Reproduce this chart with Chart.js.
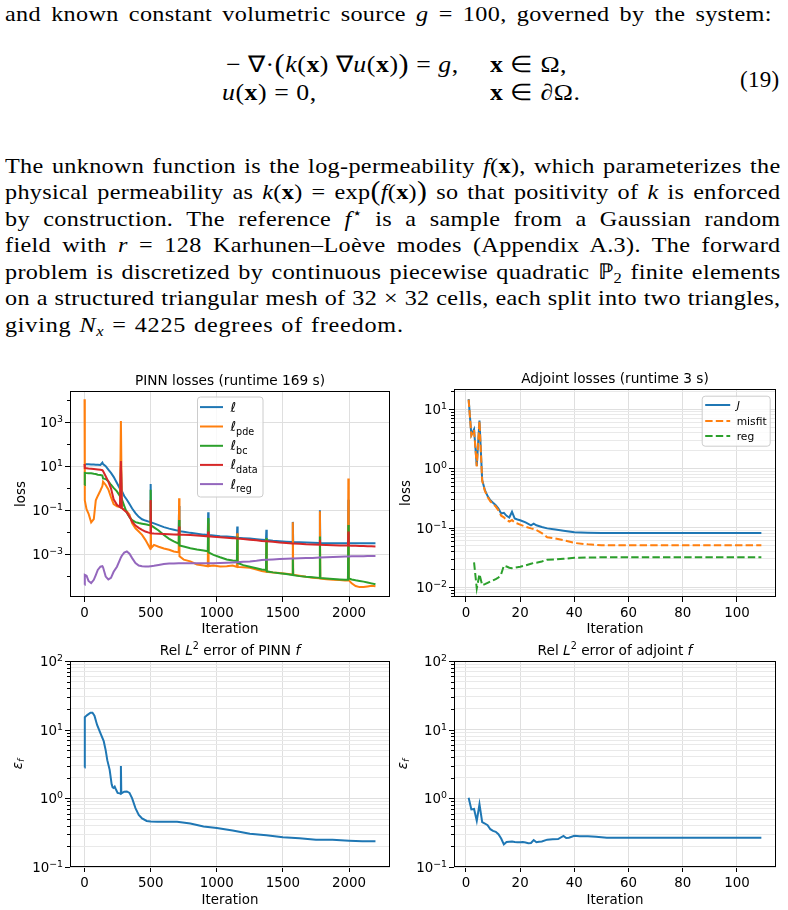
<!DOCTYPE html>
<html>
<head>
<meta charset="utf-8">
<title>PINN vs adjoint losses</title>
<script src="https://cdn.jsdelivr.net/npm/chart.js@4.4.0/dist/chart.umd.min.js"></script>
<style>
  body { margin: 0; background: #fff; width: 788px; height: 910px; position: relative; overflow: hidden; }
  .ln { position: absolute; left: 5px; width: 705px; font: 22px 'Liberation Serif', serif; line-height: 26px;
        text-align: justify; text-align-last: justify; letter-spacing: 0.3px; color: #000;
        transform: scaleX(1.1); transform-origin: 0 0; }
  .eq { position: absolute; font: 23px 'Liberation Serif', serif; line-height: 26px; white-space: nowrap; color: #000;
        letter-spacing: 0.5px; transform: scaleX(1.12); transform-origin: 0 0; }
  .bp { font-size: 27px; vertical-align: -1px; line-height: 0; }
  .sp { font-size: 15px; vertical-align: 8px; line-height: 0; }
  .sb { font-size: 15px; vertical-align: -4px; line-height: 0; }
  canvas { position: absolute; }
</style>
</head>
<body>
<div class="ln" style="top:1px; width:697px">and known constant volumetric source <i>g</i> = 100, governed by the system:</div>

<div class="eq" style="left:226px; top:52px">− ∇·<span class="bp">(</span><i>k</i>(<b>x</b>) ∇<i>u</i>(<b>x</b>)<span class="bp">)</span> = <i>g</i>,</div>
<div class="eq" style="left:490px; top:52px"><b>x</b> ∈ Ω,</div>
<div class="eq" style="left:222px; top:80px"><i>u</i>(<b>x</b>) = 0,</div>
<div class="eq" style="left:490px; top:80px"><b>x</b> ∈ ∂Ω.</div>
<div class="eq" style="left:740px; top:67px; transform:none; letter-spacing:0.3px">(19)</div>

<div class="ln" style="top:153px">The unknown function is the log-permeability <i>f</i>(<b>x</b>), which parameterizes the</div>
<div class="ln" style="top:179px">physical permeability as <i>k</i>(<b>x</b>) = exp<span class="bp">(</span><i>f</i>(<b>x</b>)<span class="bp">)</span> so that positivity of <i>k</i> is enforced</div>
<div class="ln" style="top:206px">by construction.  The reference <i>f</i><span class="sp">⋆</span> is a sample from a Gaussian random</div>
<div class="ln" style="top:232px">field with <i>r</i> = 128 Karhunen–Loève modes (Appendix A.3).  The forward</div>
<div class="ln" style="top:259px">problem is discretized by continuous piecewise quadratic ℙ<span class="sb">2</span> finite elements</div>
<div class="ln" style="top:285px">on a structured triangular mesh of 32 × 32 cells, each split into two triangles,</div>
<div class="ln" style="top:312px; text-align:left; text-align-last:left; letter-spacing:0.7px; word-spacing:1px">giving <i>N</i><span class="sb"><i>x</i></span> = 4225 degrees of freedom.</div>

<canvas id="pinnLoss" width="394" height="275" style="left:0; top:365px"></canvas>
<canvas id="adjLoss" width="394" height="275" style="left:394px; top:365px"></canvas>
<canvas id="pinnErrChart" width="394" height="270" style="left:0; top:640px"></canvas>
<canvas id="adjErrChart" width="394" height="270" style="left:394px; top:640px"></canvas>

<script>
// ---- data ----
// PINN losses, shared iteration grid (spikes are the triples around 275, 500, 715, ...)
const pinnIter = [0, 2, 15, 30, 50, 70, 85, 100, 120, 135, 140, 160, 180, 200, 220, 245, 268, 275, 282, 300,
  320, 340, 360, 385, 410, 435, 460, 485, 497, 500, 503, 525, 560, 600, 640, 675, 712, 715, 718, 750,
  800, 850, 900, 932, 935, 938, 975, 1025, 1075, 1120, 1152, 1155, 1158, 1200, 1250, 1300, 1340, 1372, 1375, 1378,
  1425, 1475, 1525, 1572, 1575, 1578, 1625, 1675, 1725, 1777, 1780, 1783, 1830, 1880, 1930, 1970, 1992, 1995, 1998, 2020,
  2050, 2080, 2110, 2140, 2170, 2200];
const pinnTotal = [12.9, 12.6, 12.3, 12.3, 12.0, 12.0, 11.7, 11.7, 11.5, 14.8, 12.6, 10.2, 7.08, 5.01, 3.31, 1.74, 0.955, 10, 0.759, 0.447,
  0.302, 0.191, 0.120, 0.0741, 0.0501, 0.0389, 0.0339, 0.0302, 0.0288, 1.58, 0.0282, 0.0251, 0.0209, 0.0170, 0.0145, 0.0129, 0.0115, 0.158, 0.0112, 0.0105,
  0.00933, 0.00851, 0.00776, 0.00741, 0.0813, 0.00741, 0.00708, 0.00661, 0.00631, 0.00603, 0.00575, 0.0182, 0.00562, 0.00537, 0.00513, 0.00479, 0.00457, 0.00437, 0.0129, 0.00437,
  0.00407, 0.00389, 0.00372, 0.00355, 0.0295, 0.00355, 0.00347, 0.00339, 0.00331, 0.00324, 0.100, 0.00324, 0.00316, 0.00316, 0.00316, 0.00316, 0.00316, 0.3, 0.00316, 0.00316,
  0.00316, 0.00316, 0.00316, 0.00316, 0.00316, 0.00316];
const pinnPde = [1.12e4, 0.282, 0.112, 0.0708, 0.0282, 0.0398, 0.282, 0.447, 0.794, 1.26, 2.00, 1.41, 0.891, 0.398, 0.191, 0.151, 0.141, 1150, 0.126, 0.105,
  0.0891, 0.0631, 0.0251, 0.0151, 0.0107, 0.00759, 0.00447, 0.00240, 0.00178, 0.251, 0.00191, 0.00263, 0.00219, 0.00182, 0.00158, 0.00132, 0.00120, 0.355, 0.000794, 0.000562,
  0.000468, 0.000339, 0.000302, 0.000282, 0.0251, 0.000288, 0.000302, 0.000275, 0.000282, 0.000302, 0.000263, 0.00891, 0.000263, 0.000251, 0.000240, 0.000200, 0.000170, 0.000158, 0.00501, 0.000155,
  0.000145, 0.000138, 0.000129, 0.000120, 0.0282, 0.000117, 0.000105, 9.33e-5, 8.51e-5, 7.94e-5, 0.0891, 7.76e-5, 7.24e-5, 6.92e-5, 6.61e-5, 6.31e-5, 6.31e-5, 2.82, 6.61e-5, 4.68e-5,
  3.55e-5, 3.16e-5, 3.16e-5, 3.39e-5, 3.63e-5, 3.47e-5];
const pinnBc = [1.41, 5.01, 4.90, 4.79, 4.79, 4.57, 4.47, 4.17, 3.98, 3.80, 2.82, 2.63, 2.09, 1.45, 1.05, 0.724, 0.437, 0.380, 0.316, 0.158,
  0.0759, 0.0479, 0.0355, 0.0288, 0.0263, 0.0245, 0.0229, 0.0214, 0.0209, 0.851, 0.0204, 0.0166, 0.0120, 0.00741, 0.00501, 0.00380, 0.00302, 0.0363, 0.00251, 0.00224,
  0.00186, 0.00162, 0.00148, 0.00135, 0.0437, 0.00120, 0.000933, 0.000724, 0.000575, 0.000513, 0.000490, 0.00631, 0.000398, 0.000316, 0.000269, 0.000229, 0.000200, 0.000191, 0.00537, 0.000166,
  0.000148, 0.000135, 0.000126, 0.000112, 0.000661, 0.000110, 0.000100, 9.33e-5, 8.91e-5, 8.32e-5, 0.00631, 8.13e-5, 7.76e-5, 7.41e-5, 7.08e-5, 6.76e-5, 6.76e-5, 0.0214, 7.94e-5, 7.08e-5,
  6.46e-5, 6.03e-5, 5.62e-5, 5.13e-5, 4.68e-5, 4.27e-5];
const pinnData = [12.6, 8.32, 8.13, 7.94, 7.76, 7.59, 7.41, 7.24, 6.92, 6.61, 6.03, 3.55, 2.00, 1.00, 0.316, 0.178, 0.141, 17.4, 0.126, 0.100,
  0.0794, 0.0501, 0.0302, 0.0200, 0.0158, 0.0129, 0.0107, 0.00955, 0.00912, 0.295, 0.00891, 0.00871, 0.00851, 0.00832, 0.00813, 0.00794, 0.00776, 0.0182, 0.00776, 0.00759,
  0.00741, 0.00708, 0.00676, 0.00646, 0.0107, 0.00646, 0.00617, 0.00589, 0.00562, 0.00537, 0.00513, 0.00513, 0.00513, 0.00490, 0.00457, 0.00427, 0.00398, 0.00389, 0.00389, 0.00389,
  0.00363, 0.00339, 0.00324, 0.00309, 0.00309, 0.00309, 0.00295, 0.00282, 0.00275, 0.00269, 0.00447, 0.00269, 0.00263, 0.00257, 0.00251, 0.00245, 0.00245, 0.0107, 0.00245, 0.00240,
  0.00240, 0.00234, 0.00234, 0.00229, 0.00229, 0.00224];
const pinnReg = [4.07e-5, 1.15e-4, 1.05e-4, 6.03e-5, 4.79e-5, 6.76e-5, 1.12e-4, 1.91e-4, 2.69e-4, 2.82e-4, 2.51e-4, 9.55e-5, 7.08e-5, 8.32e-5, 1.58e-4, 2.69e-4, 5.62e-4, 7.08e-4, 8.51e-4, 1.17e-3,
  1.32e-3, 1.05e-3, 6.61e-4, 3.98e-4, 3.02e-4, 2.82e-4, 2.75e-4, 2.75e-4, 2.82e-4, 2.82e-4, 2.82e-4, 2.95e-4, 3.24e-4, 3.55e-4, 3.72e-4, 3.80e-4, 3.89e-4, 3.89e-4, 3.89e-4, 3.89e-4,
  3.89e-4, 3.89e-4, 3.89e-4, 3.89e-4, 3.89e-4, 3.89e-4, 3.89e-4, 3.98e-4, 4.07e-4, 4.17e-4, 4.27e-4, 4.27e-4, 4.27e-4, 4.47e-4, 4.68e-4, 5.01e-4, 5.37e-4, 5.50e-4, 5.50e-4, 5.50e-4,
  5.75e-4, 6.03e-4, 6.17e-4, 6.31e-4, 6.31e-4, 6.31e-4, 6.46e-4, 6.61e-4, 6.76e-4, 7.08e-4, 7.08e-4, 7.08e-4, 7.24e-4, 7.41e-4, 7.59e-4, 7.76e-4, 7.76e-4, 7.76e-4, 7.76e-4, 7.94e-4,
  7.94e-4, 8.13e-4, 8.13e-4, 8.32e-4, 8.32e-4, 8.32e-4];

// adjoint losses
const adjIter = [1, 2, 3, 4, 5, 6, 7, 8, 9, 10, 11, 12, 13, 14, 15, 16, 17, 18, 19, 20,
  22, 24, 25, 26, 28, 30, 33, 36, 40, 45, 50, 60, 70, 80, 90, 100, 109];
const adjJ = [14.8, 3.68, 4.59, 1.10, 6.43, 0.637, 0.431, 0.342, 0.292, 0.264, 0.240, 0.211, 0.174, 0.179, 0.159, 0.149, 0.186, 0.143, 0.138, 0.134,
  0.123, 0.110, 0.117, 0.110, 0.103, 0.0977, 0.0933, 0.0891, 0.0841, 0.0828, 0.0818, 0.0818, 0.0818, 0.0818, 0.0818, 0.0818, 0.0818];
const adjMisfit = [14.5, 3.6, 4.5, 1.08, 6.3, 0.62, 0.42, 0.33, 0.28, 0.25, 0.228, 0.197, 0.160, 0.150, 0.135, 0.127, 0.135, 0.122, 0.118, 0.113,
  0.104, 0.0977, 0.0955, 0.0912, 0.0813, 0.0692, 0.0660, 0.0617, 0.0555, 0.0525, 0.0507, 0.0507, 0.0507, 0.0507, 0.0507, 0.0507, 0.0507];
const adjReg = [null, null, 0.026, 0.0095, 0.0165, 0.0108, 0.0112, 0.0118, 0.0124, 0.0130, 0.0136, 0.0145, 0.0165, 0.0230, 0.0222, 0.0212, 0.0208, 0.0212, 0.0216, 0.0220,
  0.0232, 0.0248, 0.0255, 0.0258, 0.0270, 0.0290, 0.0292, 0.0300, 0.0312, 0.0316, 0.0317, 0.0317, 0.0317, 0.0317, 0.0317, 0.0317, 0.0317];

// relative L2 error of f
const pinnErrIter = [0, 2, 20, 45, 60, 75, 95, 120, 145, 160, 172, 190, 205, 212, 220, 228, 235, 250, 265, 272,
  275, 278, 300, 320, 340, 360, 385, 410, 435, 470, 500, 550, 600, 700, 800, 850, 900, 1000, 1120, 1250,
  1375, 1500, 1625, 1750, 1875, 2000, 2100, 2200];
const pinnErr = [2.82, 15.2, 16.3, 17.7, 17.7, 16.0, 11.7, 8.9, 6.8, 5.0, 3.6, 2.6, 1.6, 1.45, 1.42, 1.48, 1.38, 1.2, 1.18, 1.17,
  2.95, 1.18, 1.25, 1.26, 1.2, 1.0, 0.72, 0.575, 0.51, 0.468, 0.46, 0.455, 0.457, 0.455, 0.43, 0.41, 0.39, 0.37, 0.34, 0.305,
  0.29, 0.272, 0.263, 0.25, 0.249, 0.242, 0.237, 0.237];
const adjErrIter = [1, 2, 3, 4, 5, 6, 7, 8, 9, 10, 11, 12, 13, 14, 15, 16, 17, 18, 19, 20, 21, 22, 23, 24, 25, 26, 27, 28,
  30, 32, 34, 36, 37, 38, 40, 42, 45, 48, 52, 55, 60, 70, 80, 90, 100, 109];
const adjErr = [1.02, 0.69, 0.70, 0.47, 0.82, 0.45, 0.43, 0.405, 0.355, 0.335, 0.325, 0.30, 0.26, 0.214, 0.231, 0.233, 0.235, 0.231, 0.229, 0.229,
  0.231, 0.227, 0.222, 0.224, 0.247, 0.229, 0.233, 0.235,
  0.25, 0.254, 0.255, 0.283, 0.265, 0.267, 0.285, 0.28, 0.28, 0.275, 0.267, 0.267, 0.267, 0.267, 0.267, 0.267, 0.267, 0.267];

// ticks
const pinnXTicks = [0, 500, 1000, 1500, 2000];
const adjXTicks = [0, 20, 40, 60, 80, 100];
const pinnLossExp = [-3, -1, 1, 3];
const adjLossExp = [-2, -1, 0, 1];
const errExp = [-1, 0, 1, 2];

// ---- drawing helpers ----
const FAM = "'DejaVu Sans', sans-serif";
function fnt(size, style) { return (style ? style + ' ' : '') + size + 'px ' + FAM; }
const C = { blue: '#1f77b4', orange: '#ff7f0e', green: '#2ca02c', red: '#d62728', purple: '#9467bd' };
const DASH = [7.4, 3.2];

function pts(xs, ys) { return xs.map((x, i) => ({ x: x, y: ys[i] })); }

function expOf(v) {
  const e = Math.round(Math.log10(v));
  return Math.abs(v / Math.pow(10, e) - 1) < 1e-6 ? e : null;
}

function logTicks(min, max, minor) {
  const out = [];
  const subs = minor ? [1, 2, 3, 4, 5, 6, 7, 8, 9] : [1];
  for (let e = Math.floor(Math.log10(min)); e <= Math.ceil(Math.log10(max)); e++) {
    subs.forEach(m => {
      const v = m * Math.pow(10, e);
      if (v >= min * 0.999 && v <= max * 1.001) out.push({ value: v });
    });
  }
  return out;
}

function drawRuns(ctx, runs, x, y, align) {
  let w = 0;
  runs.forEach(r => { ctx.font = r.f; w += ctx.measureText(r.t).width; });
  let cx = align === 'center' ? x - w / 2 : (align === 'right' ? x - w : x);
  ctx.textAlign = 'left';
  runs.forEach(r => {
    ctx.font = r.f;
    ctx.fillText(r.t, cx, y + (r.dy || 0));
    cx += ctx.measureText(r.t).width;
  });
}

const decorCfg = {};

const decor = {
  id: 'decor',
  afterDatasetsDraw(chart) {
    const cfg = decorCfg[chart.canvas.id];
    const ctx = chart.ctx, a = chart.chartArea, ys = chart.scales.y;
    ctx.save();
    ctx.fillStyle = '#000';
    ctx.strokeStyle = '#000';
    ctx.textBaseline = 'alphabetic';
    ctx.lineWidth = 1;

    // y tick marks + 10^n labels
    ys.ticks.forEach(t => {
      const y = Math.round(ys.getPixelForValue(t.value)) + 0.5;
      const e = expOf(t.value);
      const labeled = e !== null && cfg.yLabels.includes(e);
      const len = labeled ? 5 : 3;
      ctx.beginPath();
      ctx.moveTo(a.left - len, y);
      ctx.lineTo(a.left, y);
      ctx.stroke();
      if (labeled) {
        drawRuns(ctx, [
          { t: '10', f: fnt(13.4) },
          { t: e < 0 ? '\u2212' + (-e) : String(e), f: fnt(9.4), dy: -5.5 }
        ], a.left - 7, y + 4.5, 'right');
      }
    });

    // frame
    ctx.strokeRect(a.left + 0.5, a.top + 0.5, a.right - a.left - 1, a.bottom - a.top - 1);

    // title
    drawRuns(ctx, cfg.title, (a.left + a.right) / 2, a.top - 6, 'center');

    // x label
    drawRuns(ctx, [{ t: 'Iteration', f: fnt(13.4) }], (a.left + a.right) / 2, a.bottom + cfg.xlabelDy, 'center');

    // y label (rotated)
    ctx.save();
    ctx.translate(cfg.ylabelX, (a.top + a.bottom) / 2);
    ctx.rotate(-Math.PI / 2);
    drawRuns(ctx, cfg.ylabel, 0, 0, 'center');
    ctx.restore();

    // legend
    const L = cfg.legend;
    if (L) {
      const bx = a.left + L.dx, by = a.top + L.dy;
      ctx.fillStyle = 'rgba(255,255,255,0.8)';
      ctx.strokeStyle = '#cccccc';
      ctx.beginPath();
      if (ctx.roundRect) ctx.roundRect(bx + 0.5, by + 0.5, L.w, L.h, 3);
      else ctx.rect(bx + 0.5, by + 0.5, L.w, L.h);
      ctx.fill();
      ctx.stroke();
      L.items.forEach((it, i) => {
        const ry = by + L.rows[i];
        ctx.strokeStyle = it.color;
        ctx.lineWidth = 2;
        ctx.setLineDash(it.dash || []);
        ctx.beginPath();
        ctx.moveTo(bx + L.lx0, ry);
        ctx.lineTo(bx + L.lx1, ry);
        ctx.stroke();
        ctx.setLineDash([]);
        ctx.fillStyle = '#000';
        drawRuns(ctx, it.runs, bx + L.tx, ry + L.base, 'left');
      });
    }
    ctx.restore();
  }
};

function buildChart(id, o) {
  decorCfg[id] = o.decor;
  return new Chart(document.getElementById(id), {
    type: 'line',
    data: { datasets: o.datasets },
    options: {
      responsive: false,
      animation: false,
      layout: { padding: o.pad },
      plugins: { legend: { display: false }, tooltip: { enabled: false } },
      elements: { point: { radius: 0 }, line: { borderWidth: 2, tension: 0 } },
      scales: {
        x: {
          type: 'linear', min: o.xMin, max: o.xMax, bounds: 'data',
          afterBuildTicks: s => { s.ticks = o.xTicks.map(v => ({ value: v })); },
          afterFit: s => { s.height = o.xH; },
          ticks: { color: '#000', font: { family: FAM, size: 13.4 }, padding: 3, maxRotation: 0, autoSkip: false,
                   callback: v => String(v) },
          grid: { color: '#dfdfdf', tickColor: '#000', tickLength: 5, lineWidth: 1 },
          border: { display: false }
        },
        y: {
          type: 'logarithmic', min: o.yMin, max: o.yMax, bounds: 'data',
          afterBuildTicks: s => { s.ticks = logTicks(o.yMin, o.yMax, o.minorGrid); },
          afterFit: s => { s.width = o.yW; },
          ticks: { display: false },
          grid: {
            drawTicks: false, lineWidth: 1,
            color: c => {
              const e = c.tick ? expOf(c.tick.value) : null;
              if (e !== null && o.decor.yLabels.includes(e)) return '#dfdfdf';
              return o.minorGrid ? '#e9e9e9' : 'rgba(0,0,0,0)';
            }
          },
          border: { display: false }
        }
      }
    },
    plugins: [decor]
  });
}

const lineDs = (label, xs, ys, color, order, dash) => ({
  label: label, data: pts(xs, ys), borderColor: color, backgroundColor: color,
  borderWidth: 2, order: order, borderDash: dash || [], spanGaps: false
});

const ell = sub => sub
  ? [{ t: '\u2113', f: fnt(13.6, 'italic') }, { t: sub, f: fnt(9.6), dy: 3.5 }]
  : [{ t: '\u2113', f: fnt(13.6, 'italic') }];

buildChart('pinnLoss', {
  pad: { left: 0, right: 4, top: 26, bottom: 0 }, yW: 70, xH: 43,
  xMin: -110, xMax: 2310, xTicks: pinnXTicks,
  yMin: 1.12e-5, yMax: 2.69e4, minorGrid: false,
  datasets: [
    lineDs('l', pinnIter, pinnTotal, C.blue, 4),
    lineDs('l_pde', pinnIter, pinnPde, C.orange, 3),
    lineDs('l_bc', pinnIter, pinnBc, C.green, 2),
    lineDs('l_data', pinnIter, pinnData, C.red, 1),
    lineDs('l_reg', pinnIter, pinnReg, C.purple, 0)
  ],
  decor: {
    yLabels: pinnLossExp, xlabelDy: 36, ylabelX: 25,
    title: [{ t: 'PINN losses (runtime 169 s)', f: fnt(13.7) }],
    ylabel: [{ t: 'loss', f: fnt(13.4) }],
    legend: {
      dx: 127, dy: 5.5, w: 65.5, h: 100, lx0: 3, lx1: 26, tx: 33.5, base: 4.5,
      rows: [10.6, 30, 49.3, 68.4, 87.6],
      items: [
        { color: C.blue, runs: ell('') },
        { color: C.orange, runs: ell('pde') },
        { color: C.green, runs: ell('bc') },
        { color: C.red, runs: ell('data') },
        { color: C.purple, runs: ell('reg') }
      ]
    }
  }
});

buildChart('adjLoss', {
  pad: { left: 0, right: 12, top: 24, bottom: 0 }, yW: 60, xH: 43,
  xMin: -4.4, xMax: 114.4, xTicks: adjXTicks,
  yMin: 0.0068, yMax: 21.9, minorGrid: true,
  datasets: [
    lineDs('J', adjIter, adjJ, C.blue, 2),
    lineDs('misfit', adjIter, adjMisfit, C.orange, 1, DASH),
    lineDs('reg', adjIter, adjReg, C.green, 0, DASH)
  ],
  decor: {
    yLabels: adjLossExp, xlabelDy: 36, ylabelX: 16,
    title: [{ t: 'Adjoint losses (runtime 3 s)', f: fnt(13.7) }],
    ylabel: [{ t: 'loss', f: fnt(13.4) }],
    legend: {
      dx: 247.7, dy: 6.7, w: 68, h: 50, lx0: 3.5, lx1: 28.5, tx: 35, base: 4,
      rows: [9.3, 25.3, 40.3],
      items: [
        { color: C.blue, runs: [{ t: 'J', f: fnt(10.7, 'italic') }] },
        { color: C.orange, dash: DASH, runs: [{ t: 'misfit', f: fnt(10.7) }] },
        { color: C.green, dash: DASH, runs: [{ t: 'reg', f: fnt(10.7) }] }
      ]
    }
  }
});

const errLabel = [{ t: '\u03b5', f: fnt(13.4, 'italic') }, { t: 'f', f: fnt(9.4, 'italic'), dy: 2.5 }];

buildChart('pinnErrChart', {
  pad: { left: 0, right: 4, top: 21, bottom: 0 }, yW: 70, xH: 43,
  xMin: -110, xMax: 2310, xTicks: pinnXTicks,
  yMin: 0.1, yMax: 100, minorGrid: true,
  datasets: [lineDs('err', pinnErrIter, pinnErr, C.blue, 0)],
  decor: {
    yLabels: errExp, xlabelDy: 37, ylabelX: 21.5,
    title: [
      { t: 'Rel ', f: fnt(13.7) }, { t: 'L', f: fnt(13.7, 'italic') }, { t: '2', f: fnt(9.6), dy: -6 },
      { t: ' error of PINN ', f: fnt(13.7) }, { t: 'f', f: fnt(13.7, 'italic') }
    ],
    ylabel: errLabel
  }
});

buildChart('adjErrChart', {
  pad: { left: 0, right: 12, top: 21, bottom: 0 }, yW: 60, xH: 43,
  xMin: -4.4, xMax: 114.4, xTicks: adjXTicks,
  yMin: 0.1, yMax: 100, minorGrid: true,
  datasets: [lineDs('err', adjErrIter, adjErr, C.blue, 0)],
  decor: {
    yLabels: errExp, xlabelDy: 37, ylabelX: 12.5,
    title: [
      { t: 'Rel ', f: fnt(13.7) }, { t: 'L', f: fnt(13.7, 'italic') }, { t: '2', f: fnt(9.6), dy: -6 },
      { t: ' error of adjoint ', f: fnt(13.7) }, { t: 'f', f: fnt(13.7, 'italic') }
    ],
    ylabel: errLabel
  }
});
</script>
</body>
</html>
